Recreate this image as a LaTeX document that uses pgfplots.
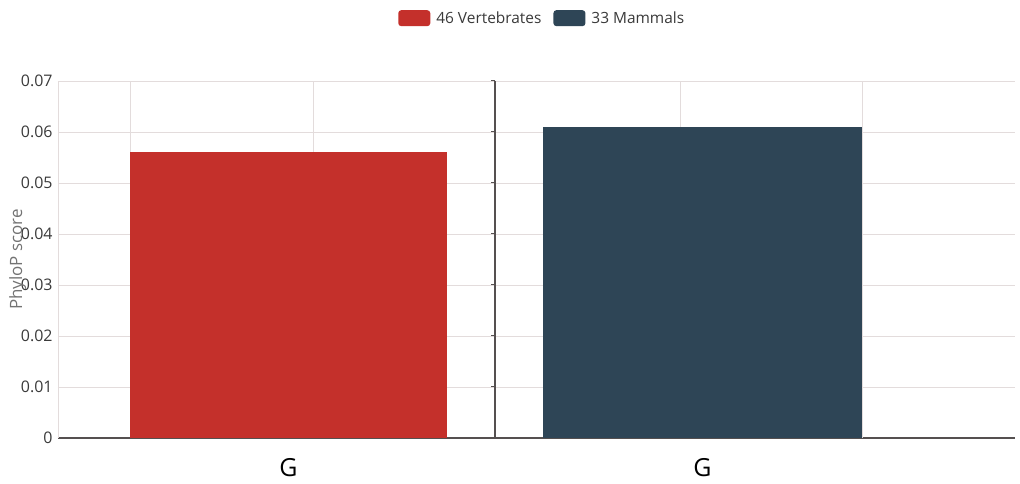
\documentclass[border=0pt]{standalone}
\usepackage{fontspec}
\setmainfont{Open Sans}
\usepackage{pgfplots}
\pgfplotsset{compat=1.18}
\definecolor{vred}{HTML}{C4302B}
\definecolor{mblue}{HTML}{2E4556}
\definecolor{gridc}{HTML}{E3DCDC}
\definecolor{axc}{HTML}{555050}
\definecolor{txt}{HTML}{3A3A3A}
\begin{document}
\begin{tikzpicture}[x=1bp,y=1bp]
\useasboundingbox (-58,-46) rectangle (962,438);
\begin{axis}[
  at={(0,0)}, anchor=south west,
  scale only axis, width=957bp, height=357bp,
  xmin=0, xmax=957, ymin=0, ymax=0.07,
  axis lines*=left,
  x axis line style={draw=axc, line width=1.3bp},
  y axis line style={draw=gridc, line width=0.9bp},
  major tick length=0pt,
  scaled y ticks=false,
  ytick={0,0.01,0.02,0.03,0.04,0.05,0.06,0.07},
  yticklabels={0,0.01,0.02,0.03,0.04,0.05,0.06,0.07},
  yticklabel style={font=\fontsize{16}{18}\selectfont, text=txt, xshift=-2bp},
  ymajorgrids, grid style={draw=gridc, line width=0.9bp},
  xtick={230.5,644.5}, xticklabels={G,G},
  xticklabel style={font=\fontsize{25}{28}\selectfont, text=black, yshift=-17bp},
  extra x ticks={72,255,622,804}, extra x tick labels={},
  extra x tick style={grid=major},
  ylabel={PhyloP score},
  ylabel style={at={(axis description cs:-0.042,0.5)}, anchor=center, font=\fontsize{17}{19}\selectfont, text=black!55},
  legend columns=2,
  legend style={at={(axis description cs:0.506,1.176)}, anchor=center, draw=none,
    font=\fontsize{15.5}{18}\selectfont, text=txt,
    /tikz/every even column/.append style={column sep=10bp}},
  legend image code/.code={\fill[#1, rounded corners=3bp] (0bp,-8bp) rectangle (32bp,8bp);\path (36bp,0bp);},
]
\addplot[ybar, bar shift=0pt, bar width=317, fill=vred, draw=none] coordinates {(230.5,0.056)};
\addlegendentry{46 Vertebrates}
\addplot[ybar, bar shift=0pt, bar width=319, fill=mblue, draw=none] coordinates {(644.5,0.061)};
\addlegendentry{33 Mammals}
\draw[axc, line width=1.3bp] (axis cs:437,0) -- (axis cs:437,0.07);
\pgfplotsinvokeforeach{0,0.01,0.02,0.03,0.04,0.05,0.06,0.07}{
  \draw[axc, line width=1bp] (axis cs:437,#1) -- ++(-4bp,0);
}
\end{axis}
\end{tikzpicture}
\end{document}
